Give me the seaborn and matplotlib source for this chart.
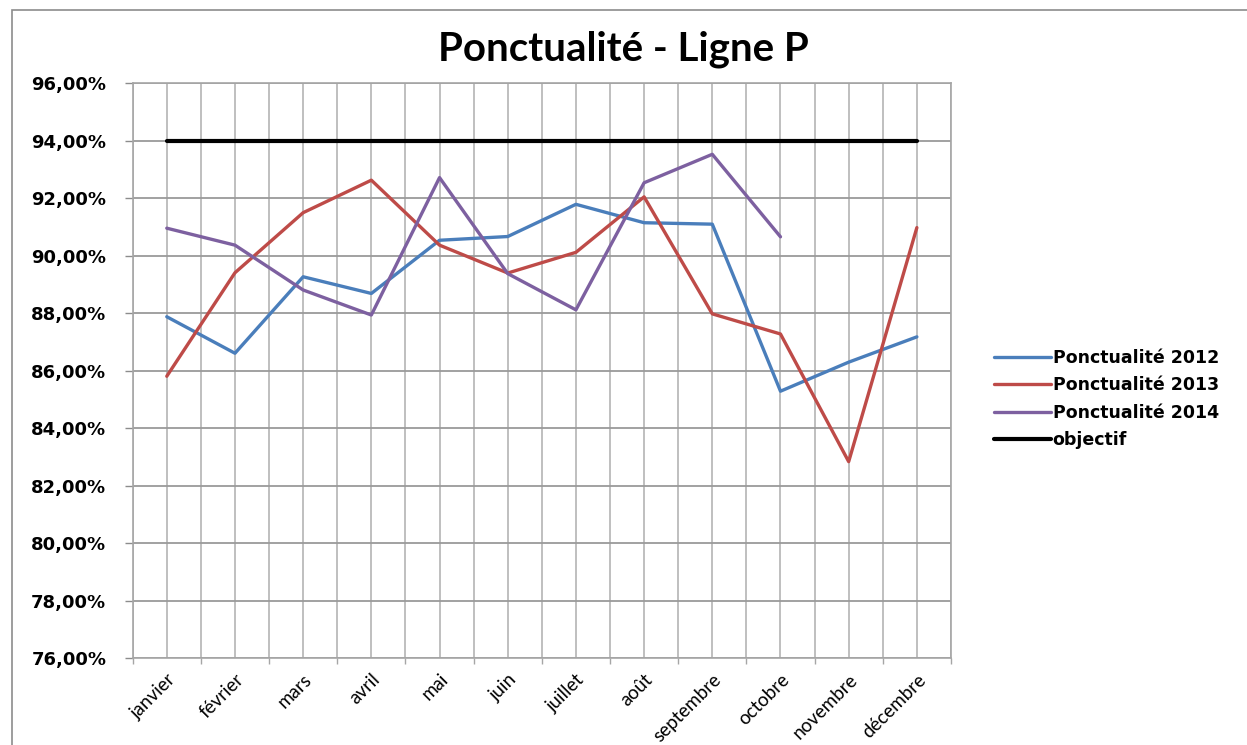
import numpy as np
import pandas as pd
import seaborn as sns
import matplotlib
matplotlib.use("Agg")
import matplotlib.pyplot as plt
from matplotlib.patches import Rectangle
from matplotlib.ticker import FuncFormatter

# ---- data ----
months = ["janvier", "février", "mars", "avril", "mai", "juin", "juillet",
          "août", "septembre", "octobre", "novembre", "décembre"]
p2012 = [87.88, 86.61, 89.27, 88.69, 90.54, 90.67, 91.79, 91.15, 91.10, 85.29, 86.30, 87.18]
p2013 = [85.81, 89.41, 91.50, 92.63, 90.37, 89.40, 90.12, 92.05, 87.98, 87.28, 82.84, 90.98]
p2014 = [90.96, 90.37, 88.81, 87.94, 92.72, 89.38, 88.12, 92.54, 93.53, 90.66]
objectif = [94.0, 94.0, 94.0, 94.0, 94.0, 94.0, 94.0, 94.0, 94.0, 94.0, 94.0, 94.0]
series_names = ["Ponctualité 2012", "Ponctualité 2013", "Ponctualité 2014", "objectif"]
yticks = [76, 78, 80, 82, 84, 86, 88, 90, 92, 94, 96]

colors = {"Ponctualité 2012": "#4A7EBB", "Ponctualité 2013": "#BE4B48",
          "Ponctualité 2014": "#7D60A0", "objectif": "#000000"}

rows = []
for name, vals in zip(series_names, [p2012, p2013, p2014, objectif]):
    for i, v in enumerate(vals):
        rows.append({"idx": i, "mois": months[i], "val": v, "serie": name})
df = pd.DataFrame(rows)

sns.set_theme(style="white")
plt.rcParams["font.family"] = ["Lato", "DejaVu Sans"]
plt.rcParams["text.color"] = "black"
plt.rcParams["xtick.color"] = "black"
plt.rcParams["ytick.color"] = "black"

fig = plt.figure(figsize=(12.47, 7.45), dpi=100)
fig.patch.set_facecolor("white")
ax = fig.add_axes([0.1064, 0.1164, 0.6562, 0.7718])

sns.lineplot(data=df, x="idx", y="val", hue="serie", hue_order=series_names,
             palette=colors, sort=False, estimator=None, linewidth=2.4,
             ax=ax, legend=False)
ax.lines[3].set_linewidth(3.0)

ax.set_xlim(-0.5, 11.5)
ax.set_ylim(76, 96)
ax.set_xlabel("")
ax.set_ylabel("")

ax.set_xticks(range(len(months)))
ax.set_xticks(np.arange(-0.5, 11.51, 0.5), minor=True)
ax.set_xticklabels(months, rotation=45, ha="right", rotation_mode="anchor",
                   fontsize=13.5, family="Lato")
ax.set_yticks(yticks)
ax.yaxis.set_major_formatter(FuncFormatter(lambda v, p: f"{v:.2f}%".replace(".", ",")))
for lab in ax.get_yticklabels():
    lab.set_fontweight("bold")
    lab.set_fontsize(13)
    lab.set_family("DejaVu Sans")

ax.tick_params(axis="x", which="major", length=0, pad=9, labelcolor="black")
ax.tick_params(axis="x", which="minor", length=4, color="#A6A6A6", width=1, direction="out", bottom=True)
ax.tick_params(axis="y", which="major", length=6, color="#8C8C8C", width=1, direction="out",
               left=True, pad=13, labelcolor="black")

ax.set_axisbelow(True)
ax.grid(axis="x", which="both", color="#BFBFBF", linewidth=1.4)
ax.grid(axis="y", which="major", color="#9A9A9A", linewidth=1.3)
for s in ax.spines.values():
    s.set_color("#A6A6A6")
    s.set_linewidth(1.2)

# title
fig.text(0.5, 1 - 49 / 745, "Ponctualité - Ligne P", ha="center", va="center",
         fontsize=29, fontweight="bold", family="Lato", color="black")

# legend
leg = fig.legend(handles=ax.lines[:4], labels=series_names, loc="center left",
                 bbox_to_anchor=(978 / 1247, 1 - 399 / 745), frameon=False,
                 handlelength=3.3, handletextpad=0.1, labelspacing=0.55,
                 prop=dict(family="DejaVu Sans", weight="bold", size=12.5))
for t in leg.get_texts():
    t.set_color("black")

# chart area border
fig.patches.append(Rectangle((12 / 1247, -0.1), 1.2, 1.1 - 10 / 745, fill=False,
                             edgecolor="#8C8C8C", linewidth=1.2,
                             transform=fig.transFigure, figure=fig))

fig.savefig("out.png", dpi=100)
